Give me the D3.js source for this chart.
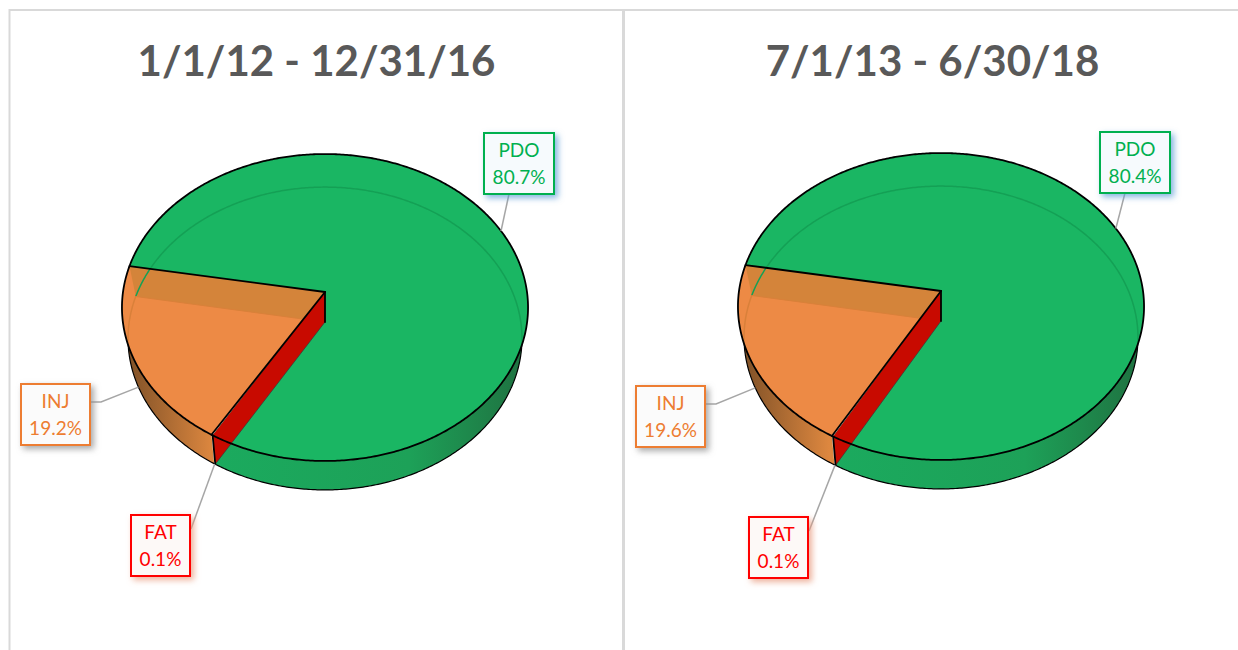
<!DOCTYPE html>
<html>
<head>
<meta charset="utf-8">
<script src="https://cdn.jsdelivr.net/npm/d3@7"></script>
<style>
html, body { margin: 0; padding: 0; background: #fff; overflow: hidden; }
svg { display: block; }
text { font-family: Lato, "Open Sans", sans-serif; }
</style>
</head>
<body>
<div id="my_dataviz"></div>
<script>

// values
var categories = ["PDO", "FAT", "INJ"];
var titles = ["1/1/12 - 12/31/16", "7/1/13 - 6/30/18"];
var valuesLeft = [80.7, 0.1, 19.2];
var valuesRight = [80.4, 0.1, 19.6];

var colors = {PDO: "#00B050", FAT: "#FF0000", INJ: "#ED7D31"};
var faceColors = {PDO: "#1AB663", FAT: "#C80A00", INJ: "#ED8A45"};
var innerLine = {PDO: "#14A055", FAT: "#C80A00", INJ: "#D9803A"};
var boxFill = {PDO: "#F6FAFD", FAT: "#FDF9F7", INJ: "#FBFBFB"};

var width = 1238, height = 650;

// where each pie and its label boxes sit on the page
var pies = [
  {cx: 325, topY: 292, titleX: 316.5, titleY: 76,
   boxes: {PDO: [484, 133, 70, 61], INJ: [21, 384, 69, 61], FAT: [131, 515, 59, 61]}},
  {cx: 941, topY: 291, titleX: 932.5, titleY: 76,
   boxes: {PDO: [1100, 132, 70, 61], INJ: [636, 386, 69, 61], FAT: [749, 517, 59, 61]}}
];

// perspective of the two rims (upper face and lower face of the disc)
var upper = {A: 202, B: 151.9, k: 0.101, dy: 0};
var lower = {A: 195.8, B: 149.6, k: 0.109, dy: 30};
var startDeg = -80;

var svg = d3.select("#my_dataviz")
  .append("svg")
    .attr("width", width)
    .attr("height", height);

var defs = svg.append("defs");

// label box shadows
var shadows = {PDO: "#5B9BD5", FAT: "#E8977A", INJ: "#8C8C8C"};
categories.forEach(function(c) {
  defs.append("filter")
      .attr("id", "shadow" + c)
      .attr("x", "-30%").attr("y", "-30%")
      .attr("width", "170%").attr("height", "170%")
    .append("feDropShadow")
      .attr("dx", 3).attr("dy", 3)
      .attr("stdDeviation", 3)
      .attr("flood-color", shadows[c])
      .attr("flood-opacity", 0.75);
});

// panel lines
svg.append("path")
  .attr("d", "M9.5,650V10H1238")
  .attr("fill", "none")
  .attr("stroke", "#D9D9D9")
  .attr("stroke-width", 2);
svg.append("line")
  .attr("x1", 623.5).attr("x2", 623.5)
  .attr("y1", 10).attr("y2", 650)
  .attr("stroke", "#D9D9D9")
  .attr("stroke-width", 3);

function project(p, rim, a) {
  var w = 1 + rim.k * Math.cos(a);
  return [p.cx + rim.A * Math.sin(a) / w,
          p.topY + rim.dy - rim.B * Math.cos(a) / w];
}

function arcPoints(p, rim, a0, a1) {
  var n = Math.max(2, Math.ceil(Math.abs(a1 - a0) / 0.01));
  return d3.range(n + 1).map(function(i) {
    return project(p, rim, a0 + (a1 - a0) * i / n);
  });
}

var line = d3.line();
var pieLayout = d3.pie()
  .sort(null)
  .startAngle(startDeg * Math.PI / 180)
  .endAngle((startDeg + 360) * Math.PI / 180);

function drawPie(p, title, values, idx) {
  var slices = pieLayout(values);
  var g = svg.append("g");
  var apexTop = [p.cx, p.topY];
  var apexLow = [p.cx, p.topY + lower.dy];

  var byName = {};
  slices.forEach(function(s, i) { byName[categories[i]] = s; });

  // wall gradients
  var gradPDO = defs.append("linearGradient")
    .attr("id", "wallPDO" + idx)
    .attr("gradientUnits", "userSpaceOnUse")
    .attr("x1", p.cx - 110).attr("x2", p.cx + 203)
    .attr("y1", 0).attr("y2", 0);
  gradPDO.append("stop").attr("offset", "0").attr("stop-color", "#1BAA5E");
  gradPDO.append("stop").attr("offset", "0.62").attr("stop-color", "#1DA158");
  gradPDO.append("stop").attr("offset", "1").attr("stop-color", "#1F7040");

  var gradINJ = defs.append("linearGradient")
    .attr("id", "wallINJ" + idx)
    .attr("gradientUnits", "userSpaceOnUse")
    .attr("x1", p.cx - 203).attr("x2", p.cx - 112)
    .attr("y1", 0).attr("y2", 0);
  gradINJ.append("stop").attr("offset", "0").attr("stop-color", "#7A4E26");
  gradINJ.append("stop").attr("offset", "1").attr("stop-color", "#DD873F");

  // outer walls
  ["PDO", "INJ"].forEach(function(c) {
    var s = byName[c];
    var pts = arcPoints(p, upper, s.startAngle, s.endAngle)
      .concat(arcPoints(p, lower, s.endAngle, s.startAngle));
    g.append("path")
      .attr("d", line(pts) + "Z")
      .attr("fill", "url(#wall" + c + idx + ")");
  });

  // lower silhouette
  g.append("path")
    .attr("d", line(arcPoints(p, lower, 0, 2 * Math.PI)) + "Z")
    .attr("fill", "none")
    .attr("stroke", "#000")
    .attr("stroke-width", 1.2);

  // top faces
  ["PDO", "INJ"].forEach(function(c) {
    var s = byName[c];
    g.append("path")
      .attr("d", line([apexTop].concat(arcPoints(p, upper, s.startAngle, s.endAngle))) + "Z")
      .attr("fill", faceColors[c]);
  });

  // darker band in INJ, the back wall seen through the face
  var inj = byName.INJ;
  var bandPts = [apexTop, project(p, upper, inj.endAngle), project(p, lower, inj.endAngle), apexLow];
  g.append("path")
    .attr("d", line(bandPts) + "Z")
    .attr("fill", "#D4843A");

  // faint lower rim seen through the faces
  var clipId = "topClip" + idx;
  defs.append("clipPath").attr("id", clipId)
    .append("path")
    .attr("d", line(arcPoints(p, upper, 0, 2 * Math.PI)) + "Z");
  ["PDO", "INJ"].forEach(function(c) {
    var s = byName[c];
    g.append("path")
      .attr("clip-path", "url(#" + clipId + ")")
      .attr("d", line(arcPoints(p, lower, s.startAngle, s.endAngle)))
      .attr("fill", "none")
      .attr("stroke", innerLine[c])
      .attr("stroke-width", 1.5);
  });
  g.append("path")
    .attr("d", line([project(p, lower, inj.endAngle), apexLow]))
    .attr("fill", "none")
    .attr("stroke", innerLine.INJ)
    .attr("stroke-width", 1);

  // red wall of the tiny FAT slice
  var fat = byName.FAT;
  var edgeTop = project(p, upper, fat.startAngle);
  var edgeLow = project(p, lower, fat.startAngle);
  g.append("path")
    .attr("d", line([apexTop, apexLow, edgeLow, edgeTop]) + "Z")
    .attr("fill", faceColors.FAT);
  g.append("path")
    .attr("d", line([apexLow, edgeLow]))
    .attr("fill", "none")
    .attr("stroke", "#3A3A3A")
    .attr("stroke-width", 0.7);

  // black edges
  g.append("path")
    .attr("d", line(arcPoints(p, upper, 0, 2 * Math.PI)) + "Z")
    .attr("fill", "none")
    .attr("stroke", "#000")
    .attr("stroke-width", 1.8);
  [[apexTop, project(p, upper, inj.endAngle)],
   [apexTop, project(p, upper, inj.startAngle)],
   [apexTop, apexLow],
   [edgeTop, edgeLow]].forEach(function(d) {
    g.append("path")
      .attr("d", line(d))
      .attr("fill", "none")
      .attr("stroke", "#000")
      .attr("stroke-width", 1.8)
      .attr("stroke-linecap", "round");
  });

  // title
  svg.append("text")
    .attr("x", p.titleX)
    .attr("y", p.titleY)
    .attr("text-anchor", "middle")
    .attr("font-size", 42)
    .attr("font-weight", 700)
    .attr("fill", "#595959")
    .text(title);

  // leaders and label boxes
  slices.forEach(function(s, i) {
    var c = categories[i];
    var b = p.boxes[c];
    var mid = (s.startAngle + s.endAngle) / 2;
    var end = Math.cos(mid) < 0 ? project(p, lower, mid) : project(p, upper, mid);
    var leader;
    if (c == "PDO") leader = [[b[0] + 25, b[1] + b[3]], end];
    if (c == "INJ") leader = [[b[0] + b[2], b[1] + 18], [b[0] + b[2] + 11, b[1] + 18], end];
    if (c == "FAT") leader = [[b[0] + b[2] + 1, b[1] + 14], end];
    svg.append("path")
      .attr("d", line(leader))
      .attr("fill", "none")
      .attr("stroke", "#A6A6A6")
      .attr("stroke-width", 1.5);

    svg.append("rect")
      .attr("x", b[0]).attr("y", b[1])
      .attr("width", b[2]).attr("height", b[3])
      .attr("fill", boxFill[c])
      .attr("stroke", colors[c])
      .attr("stroke-width", 2)
      .attr("filter", "url(#shadow" + c + ")");
    svg.append("text")
      .attr("x", b[0] + b[2] / 2)
      .attr("y", b[1] + 24)
      .attr("text-anchor", "middle")
      .attr("font-size", 19)
      .attr("fill", colors[c])
      .text(c);
    svg.append("text")
      .attr("x", b[0] + b[2] / 2)
      .attr("y", b[1] + 51)
      .attr("text-anchor", "middle")
      .attr("font-size", 19)
      .attr("fill", colors[c])
      .text(d3.format(".1f")(values[i]) + "%");
  });
}

drawPie(pies[0], titles[0], valuesLeft, 0);
drawPie(pies[1], titles[1], valuesRight, 1);

</script>
</body>
</html>
